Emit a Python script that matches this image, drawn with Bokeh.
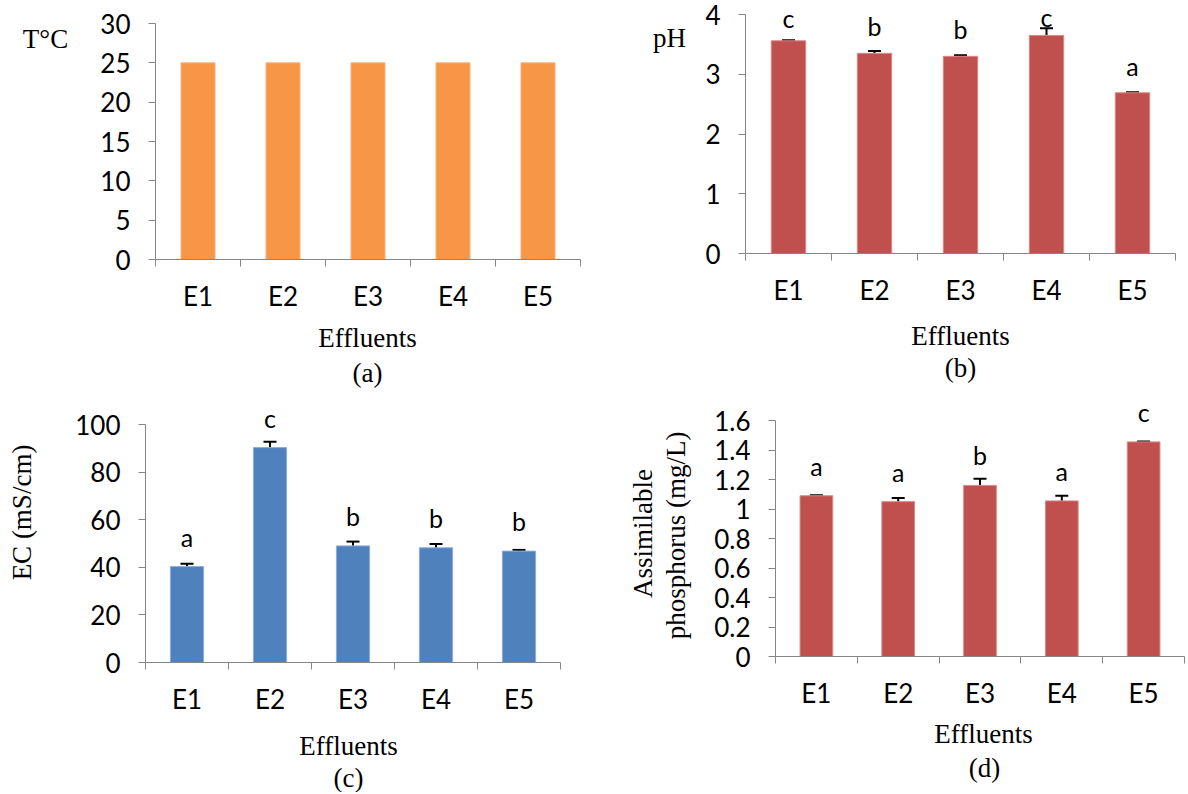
import math
from bokeh.plotting import figure
from bokeh.layouts import column, row
from bokeh.models import (ColumnDataSource, Whisker, TeeHead, LabelSet, Label,
                          FixedTicker, CustomJSTickFormatter, Range1d)
from bokeh.core.properties import value
from bokeh.embed import file_html
from bokeh.resources import INLINE

# ---------------- data ----------------
effluents = ["E1", "E2", "E3", "E4", "E5"]

temperature = [25, 25, 25, 25, 25]

ph_mean = [3.56, 3.35, 3.30, 3.65, 2.69]
ph_err = [0.01, 0.04, 0.02, 0.12, 0.01]
ph_letters = ["c", "b", "b", "c", "a"]

ec_mean = [40.3, 90.3, 49.0, 48.2, 46.8]
ec_err = [1.2, 2.5, 1.8, 1.6, 0.5]
ec_letters = ["a", "c", "b", "b", "b"]

phos_mean = [1.09, 1.05, 1.16, 1.055, 1.455]
phos_err = [0.003, 0.025, 0.045, 0.035, 0.002]
phos_letters = ["a", "a", "b", "a", "c"]

t_ticks = [0, 5, 10, 15, 20, 25, 30]
ph_ticks = [0, 1, 2, 3, 4]
ec_ticks = [0, 20, 40, 60, 80, 100]
phos_ticks = [0, 0.2, 0.4, 0.6, 0.8, 1, 1.2, 1.4, 1.6]

x_title = "Effluents"

# ---------------- styles ----------------
ORANGE = ("#F79646", "#FAB07A")
RED = ("#C0504D", "#D68B89")
BLUE = ("#4F81BD", "#8DAEDA")
AXIS_GREY = "#868686"
SERIF = "Liberation Serif"
SANS = "Lato"
SERIF_SIZE = "27px"
TICK_SIZE = "26px"
LETTER_TOP_LIMIT = 27   # keep letter baselines at least this far below the canvas top


def build(values, errs, letters, colors, yticks, ymax, W, H, axis_px, caption,
          ytitles, xtitle_px, caption_px, letter_gap=20):
    """axis_px = (x of y-axis, x of x-axis end, y of top tick, y of zero), figure pixels."""
    left, right, top, bottom = axis_px
    n = len(effluents)
    ux = n / (right - left)
    uy = ymax / (bottom - top)

    def dx(px):
        return 0.5 + (px - left) * ux

    def dy(py):
        return (bottom - py) * uy

    xs = [i + 1 for i in range(n)]
    data = dict(x=xs, mean=values, cat=effluents)
    if errs is not None:
        data["upper"] = [v + e for v, e in zip(values, errs)]
        data["lower"] = [v - e for v, e in zip(values, errs)]
    if letters is not None:
        data["letter"] = letters
        # screen offset above each bar, reduced only where the canvas top is near
        bar_top_px = [bottom - v / uy for v in values]
        data["yoff"] = [min(letter_gap, t - LETTER_TOP_LIMIT) for t in bar_top_px]
    src = ColumnDataSource(data)

    p = figure(width=W, height=H,
               x_range=Range1d(dx(0), dx(W)), y_range=Range1d(dy(H), dy(0)),
               min_border=0, output_backend="svg", toolbar_location=None, tools="")
    p.outline_line_color = None
    p.xgrid.visible = False
    p.ygrid.visible = False
    p.background_fill_color = "white"
    p.border_fill_color = "white"

    p.vbar(x="x", top="mean", width=0.4, source=src,
           fill_color=colors[0], line_color=colors[1], line_width=1)

    if errs is not None:
        p.add_layout(Whisker(source=src, base="x", upper="upper", lower="lower",
                             line_color="black", line_width=2,
                             upper_head=TeeHead(size=13, line_color="black", line_width=2),
                             lower_head=TeeHead(size=13, line_color="black", line_width=2)))
    if letters is not None:
        p.add_layout(LabelSet(x="x", y="mean", text="letter", source=src,
                              text_align="center", text_baseline="alphabetic",
                              y_offset="yoff",
                              text_font=value(SANS), text_font_size=value("25px"),
                              text_color="black"))

    # x axis, drawn at y = 0
    xa = p.xaxis[0]
    xa.fixed_location = 0
    xa.bounds = (0.5, n + 0.5)
    xa.ticker = FixedTicker(ticks=xs, minor_ticks=[i + 0.5 for i in range(n + 1)])
    xa.formatter = CustomJSTickFormatter(
        args=dict(labels=effluents),
        code="const k = Math.round(tick) - 1; return (k >= 0 && k < labels.length) ? labels[k] : '';")
    xa.major_tick_out = 0
    xa.major_tick_in = 0
    xa.minor_tick_out = 7
    xa.minor_tick_in = 0
    xa.minor_tick_line_color = AXIS_GREY
    xa.axis_line_color = AXIS_GREY
    xa.major_label_text_font = SANS
    xa.major_label_text_font_size = TICK_SIZE
    xa.major_label_text_color = "black"
    xa.major_label_standoff = 13

    # y axis, drawn at x = 0.5
    ya = p.yaxis[0]
    ya.fixed_location = 0.5
    ya.bounds = (0, ymax)
    ya.ticker = FixedTicker(ticks=yticks)
    ya.formatter = CustomJSTickFormatter(code="return String(parseFloat(tick.toFixed(2)));")
    ya.major_tick_out = 7
    ya.major_tick_in = 0
    ya.minor_tick_line_color = None
    ya.major_tick_line_color = AXIS_GREY
    ya.axis_line_color = AXIS_GREY
    ya.major_label_text_font = SANS
    ya.major_label_text_font_size = TICK_SIZE
    ya.major_label_text_color = "black"
    ya.major_label_standoff = 18

    # titles
    texts = [(x_title, xtitle_px[0], xtitle_px[1], 0.0),
             (caption, caption_px[0], caption_px[1], 0.0)] + list(ytitles)
    for txt, px, py, ang in texts:
        p.add_layout(Label(x=dx(px), y=dy(py), text=txt, angle=ang,
                           text_font=SERIF, text_font_size=SERIF_SIZE,
                           text_font_style="normal", text_color="black",
                           text_align="center", text_baseline="middle"))
    return p


V = math.pi / 2

# (a) temperature
pa = build(temperature, None, None, ORANGE, t_ticks, 30, 594, 393,
           (155, 580, 23, 259), "(a)",
           [("T°C", 45, 38, 0.0)], (367, 337), (367, 372))

# (b) pH
pb = build(ph_mean, ph_err, ph_letters, RED, ph_ticks, 4, 592, 393,
           (151, 581, 14, 253), "(b)",
           [("pH", 75, 37, 0.0)], (366, 335), (366, 367), letter_gap=17)

# (c) EC
pc = build(ec_mean, ec_err, ec_letters, BLUE, ec_ticks, 100, 594, 399,
           (145, 560, 31, 269), "(c)",
           [("EC (mS/cm)", 21, 119, V)], (348, 352), (348, 384))

# (d) assimilable phosphorus
pd_ = build(phos_mean, phos_err, phos_letters, RED, phos_ticks, 1.6, 592, 399,
            (181, 590, 27, 263), "(d)",
            [("Assimilable", 48, 140, V), ("phosphorus (mg/L)", 81, 142, V)],
            (389, 340), (390, 374))

p = column(row(pa, pb), row(pc, pd_))

with open("out.html", "w") as f:
    f.write(file_html(p, INLINE))
